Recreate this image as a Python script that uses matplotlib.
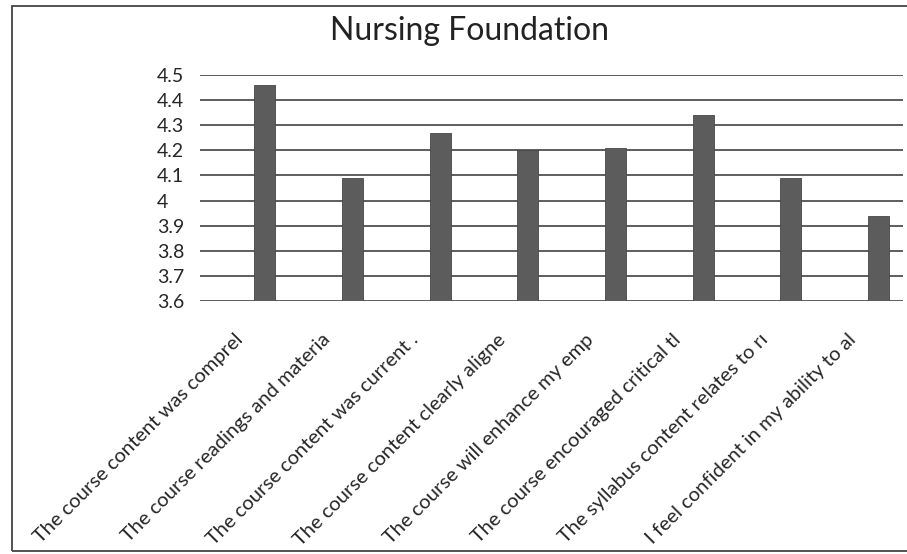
import matplotlib.pyplot as plt
import matplotlib.patches as patches
import numpy as np
from matplotlib.ticker import FuncFormatter
from matplotlib.transforms import ScaledTranslation

plt.rcParams['font.family'] = ['Lato', 'DejaVu Sans']

questions = [
    "The course content was comprel",
    "The course readings and materia",
    "The course content was current .",
    "The course content clearly aligne",
    "The course will enhance my emp",
    "The course encouraged critical tl",
    "The syllabus content relates to r\u0131",
    "I feel confident in my ability to al",
]
scores = [4.46, 4.09, 4.27, 4.20, 4.21, 4.34, 4.09, 3.94]
yticks = [3.6, 3.7, 3.8, 3.9, 4.0, 4.1, 4.2, 4.3, 4.4, 4.5]

fig = plt.figure(figsize=(9.07, 5.54), dpi=100)
ax = fig.add_axes([200/907, 1 - 301/554, 703/907, 226/554])

x = np.arange(len(scores))
ax.bar(x, scores, width=0.24, color='#5c5c5c', edgecolor='#474747',
       linewidth=0.6, zorder=3)

ax.set_ylim(3.6, 4.5)
ax.set_xlim(-0.74, 7.28)
ax.set_yticks(yticks)
ax.yaxis.set_major_formatter(FuncFormatter(lambda v, p: '%g' % round(v, 1)))
ax.grid(axis='y', color='#505050', linewidth=1.3, zorder=0)
ax.tick_params(axis='both', length=0)
ax.tick_params(axis='y', labelsize=14, labelcolor='#262626', pad=31)
for lbl in ax.get_yticklabels():
    lbl.set_horizontalalignment('left')
for s in ax.spines.values():
    s.set_visible(False)

ax.set_xticks(x)
ax.set_xticklabels(questions, rotation=45, ha='right', rotation_mode='anchor',
                   fontsize=14.5, color='#262626')
ax.tick_params(axis='x', pad=0)
# nudge the slanted labels left and down
shift = ScaledTranslation(-0.31, -0.30, fig.dpi_scale_trans)
for lbl in ax.get_xticklabels():
    lbl.set_transform(lbl.get_transform() + shift)

fig.text(470/907, 1 - 31/554, 'Nursing Foundation', fontsize=23,
         ha='center', va='center', color='#222222')

# chart frame
frame = patches.Rectangle((12/907, 3/554), 1.0, 545/554, transform=fig.transFigure,
                          fill=False, edgecolor='#444444', linewidth=1.3)
fig.patches.append(frame)

fig.savefig('out.png', dpi=100)
